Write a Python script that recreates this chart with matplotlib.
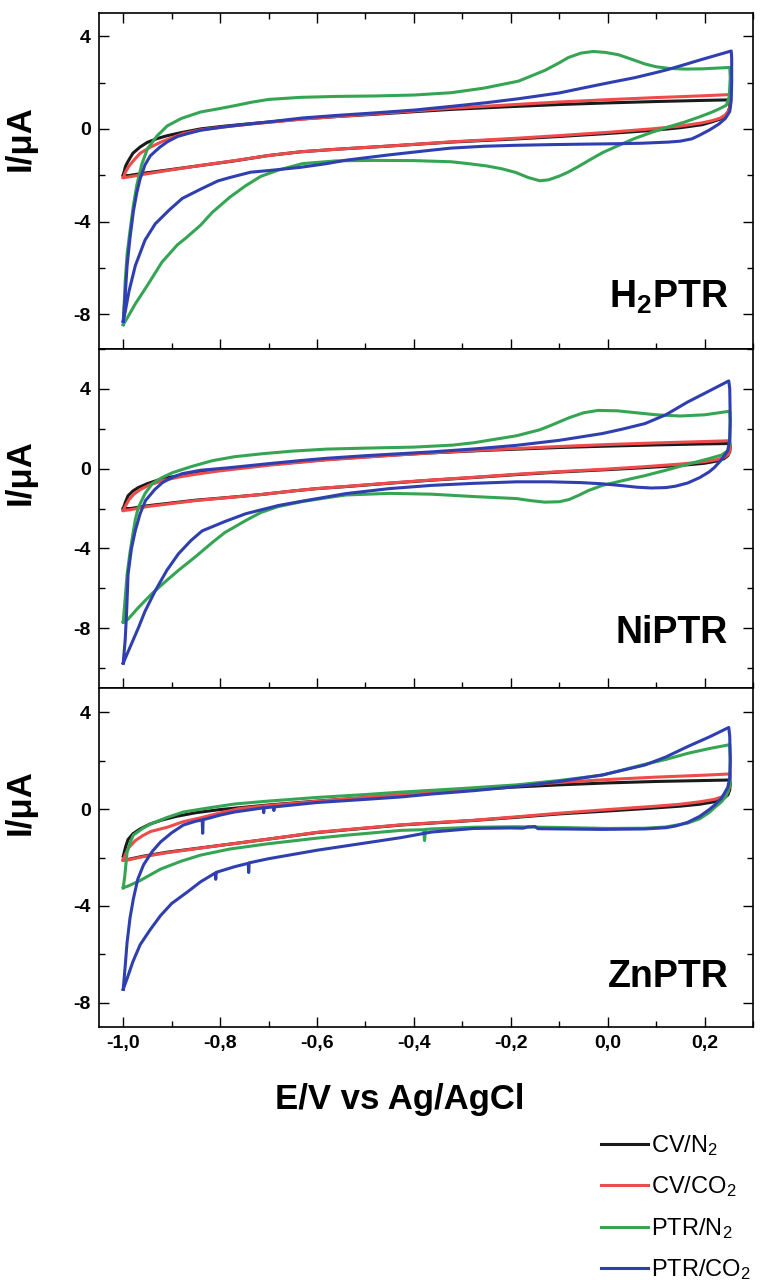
import matplotlib
matplotlib.use("Agg")
import matplotlib.pyplot as plt
from matplotlib.ticker import MultipleLocator, FuncFormatter
from matplotlib.lines import Line2D

plt.rcParams['font.family'] = ['Liberation Sans', 'DejaVu Sans']
plt.rcParams['font.weight'] = 'bold'
plt.rcParams['mathtext.fontset'] = 'custom'
plt.rcParams['mathtext.rm'] = 'Liberation Sans'
plt.rcParams['mathtext.bf'] = 'Liberation Sans:bold'
plt.rcParams['mathtext.it'] = 'Liberation Sans:italic'

# ---------------------------------------------------------------- labels
SERIES_LABELS = ["CV/N$_\\mathregular{2}$", "CV/CO$_\\mathregular{2}$",
                 "PTR/N$_\\mathregular{2}$", "PTR/CO$_\\mathregular{2}$"]
SERIES_COLORS = ["#1a1a1a", "#f04b4b", "#35a553", "#2f3fb0"]
PANEL_NAMES = ["H$_\\mathbf{2}$PTR", "NiPTR", "ZnPTR"]
X_LABEL = "E/V vs Ag/AgCl"
Y_LABEL = "I/\u03bcA"

# ---------------------------------------------------------------- data
# each loop: (E / V, I / uA), anodic sweep from -1.0 V then cathodic sweep back

# H2PTR
H2_CV_N2 = [
    (-1.000, -2.00), (-0.995, -1.60), (-0.990, -1.40), (-0.980, -1.05), (-0.965, -0.78),
    (-0.950, -0.58), (-0.930, -0.42), (-0.910, -0.30), (-0.880, -0.16), (-0.840, 0.00),
    (-0.790, 0.12), (-0.740, 0.22), (-0.680, 0.33), (-0.630, 0.43), (-0.560, 0.53),
    (-0.480, 0.63), (-0.400, 0.74), (-0.323, 0.84), (-0.200, 0.96), (-0.100, 1.05),
    (0.000, 1.12), (0.100, 1.18), (0.200, 1.23), (0.250, 1.25),
    (0.252, 1.20), (0.252, 0.95), (0.249, 0.75), (0.243, 0.58), (0.232, 0.42),
    (0.215, 0.30), (0.195, 0.18), (0.150, 0.05), (0.091, -0.07), (0.000, -0.20),
    (-0.100, -0.33), (-0.184, -0.43), (-0.323, -0.57), (-0.450, -0.74), (-0.560, -0.88),
    (-0.634, -0.99), (-0.700, -1.15), (-0.770, -1.38), (-0.840, -1.58), (-0.910, -1.78),
    (-0.960, -1.92), (-0.990, -2.02), (-1.000, -2.00)]

H2_CV_CO2 = [
    (-1.000, -2.10), (-0.995, -1.85), (-0.988, -1.60), (-0.978, -1.35), (-0.965, -1.05),
    (-0.944, -0.79), (-0.920, -0.55), (-0.895, -0.35), (-0.876, -0.20), (-0.840, -0.04),
    (-0.790, 0.09), (-0.740, 0.20), (-0.680, 0.32), (-0.630, 0.42), (-0.560, 0.53),
    (-0.480, 0.65), (-0.400, 0.77), (-0.323, 0.89), (-0.200, 1.04), (-0.100, 1.16),
    (0.000, 1.26), (0.100, 1.35), (0.200, 1.43), (0.252, 1.48),
    (0.253, 1.30), (0.253, 1.00), (0.250, 0.78), (0.243, 0.60), (0.232, 0.46),
    (0.215, 0.35), (0.195, 0.26), (0.150, 0.12), (0.091, 0.00), (0.000, -0.15),
    (-0.100, -0.29), (-0.184, -0.40), (-0.323, -0.56), (-0.450, -0.74), (-0.560, -0.88),
    (-0.634, -0.99), (-0.700, -1.15), (-0.770, -1.37), (-0.840, -1.58), (-0.910, -1.80),
    (-0.960, -1.97), (-0.990, -2.08), (-1.000, -2.10)]

H2_PTR_N2 = [
    (-1.000, -8.45), (-0.996, -6.60), (-0.992, -5.40), (-0.986, -4.40), (-0.979, -3.30),
    (-0.972, -2.43), (-0.962, -1.55), (-0.950, -0.86), (-0.930, -0.30), (-0.909, 0.13),
    (-0.880, 0.45), (-0.840, 0.73), (-0.800, 0.88), (-0.770, 1.00), (-0.735, 1.15),
    (-0.700, 1.27), (-0.634, 1.36), (-0.560, 1.40), (-0.480, 1.42), (-0.400, 1.46),
    (-0.323, 1.56), (-0.255, 1.76), (-0.184, 2.06), (-0.130, 2.52), (-0.100, 2.85),
    (-0.081, 3.08), (-0.055, 3.27), (-0.030, 3.34), (-0.005, 3.30), (0.022, 3.20),
    (0.050, 3.00), (0.077, 2.80), (0.100, 2.68), (0.126, 2.61), (0.160, 2.58),
    (0.195, 2.59), (0.252, 2.65),
    (0.253, 2.20), (0.251, 1.40), (0.245, 1.02), (0.230, 0.86), (0.215, 0.72),
    (0.190, 0.52), (0.160, 0.30), (0.125, 0.08), (0.091, -0.15), (0.055, -0.42),
    (0.022, -0.72), (-0.010, -1.02), (-0.033, -1.29), (-0.060, -1.62), (-0.081, -1.86),
    (-0.100, -2.04), (-0.122, -2.20), (-0.140, -2.24), (-0.164, -2.10), (-0.190, -1.88),
    (-0.219, -1.72), (-0.250, -1.60), (-0.288, -1.50), (-0.323, -1.42), (-0.400, -1.37),
    (-0.480, -1.36), (-0.560, -1.38), (-0.630, -1.50), (-0.680, -1.78), (-0.716, -2.05),
    (-0.747, -2.45), (-0.780, -2.95), (-0.816, -3.60), (-0.840, -4.15), (-0.870, -4.70),
    (-0.888, -5.00), (-0.920, -5.75), (-0.950, -6.75), (-0.975, -7.55), (-0.990, -8.10),
    (-1.000, -8.45)]

H2_PTR_CO2 = [
    (-1.000, -8.30), (-0.996, -7.20), (-0.992, -5.90), (-0.986, -4.70), (-0.979, -3.56),
    (-0.972, -2.75), (-0.965, -2.15), (-0.955, -1.55), (-0.944, -1.16), (-0.925, -0.80),
    (-0.909, -0.56), (-0.888, -0.33), (-0.868, -0.21), (-0.840, -0.06), (-0.800, 0.06),
    (-0.770, 0.14), (-0.700, 0.30), (-0.630, 0.47), (-0.560, 0.58), (-0.480, 0.69),
    (-0.400, 0.81), (-0.323, 0.97), (-0.250, 1.13), (-0.184, 1.30), (-0.100, 1.55),
    (-0.047, 1.78), (0.000, 1.98), (0.056, 2.21), (0.100, 2.43), (0.126, 2.57),
    (0.160, 2.78), (0.195, 3.00), (0.225, 3.18), (0.255, 3.36),
    (0.256, 3.05), (0.256, 2.00), (0.255, 1.20), (0.252, 0.75), (0.243, 0.45),
    (0.229, 0.20), (0.210, -0.05), (0.190, -0.27), (0.174, -0.43), (0.150, -0.53),
    (0.126, -0.57), (0.070, -0.62), (0.022, -0.64), (-0.050, -0.66), (-0.116, -0.68),
    (-0.190, -0.71), (-0.255, -0.75), (-0.323, -0.83), (-0.364, -0.92), (-0.450, -1.12),
    (-0.540, -1.35), (-0.580, -1.50), (-0.634, -1.66), (-0.700, -1.80), (-0.737, -1.87),
    (-0.780, -2.10), (-0.805, -2.25), (-0.840, -2.60), (-0.878, -3.00), (-0.905, -3.50),
    (-0.934, -4.10), (-0.955, -4.80), (-0.975, -5.90), (-0.988, -7.00), (-0.996, -7.90),
    (-1.000, -8.30)]

# NiPTR
NI_CV_N2 = [
    (-1.000, -2.00), (-0.995, -1.65), (-0.990, -1.36), (-0.980, -1.12), (-0.969, -0.95),
    (-0.950, -0.75), (-0.919, -0.50), (-0.885, -0.35), (-0.850, -0.22), (-0.800, -0.07),
    (-0.700, 0.20), (-0.580, 0.46), (-0.450, 0.67), (-0.364, 0.79), (-0.250, 0.92),
    (-0.100, 1.06), (0.000, 1.13), (0.100, 1.19), (0.200, 1.24), (0.252, 1.26),
    (0.253, 1.10), (0.252, 0.85), (0.248, 0.65), (0.240, 0.50), (0.225, 0.38),
    (0.200, 0.27), (0.150, 0.16), (0.077, 0.05), (0.000, -0.05), (-0.100, -0.17),
    (-0.188, -0.30), (-0.280, -0.45), (-0.364, -0.58), (-0.450, -0.73), (-0.540, -0.90),
    (-0.600, -1.00), (-0.650, -1.12), (-0.716, -1.30), (-0.800, -1.48), (-0.850, -1.58),
    (-0.900, -1.72), (-0.950, -1.86), (-0.985, -2.00), (-1.000, -2.00)]

NI_CV_CO2 = [
    (-1.000, -2.10), (-0.995, -1.85), (-0.988, -1.55), (-0.978, -1.28), (-0.965, -1.05),
    (-0.944, -0.80), (-0.915, -0.58), (-0.885, -0.42), (-0.850, -0.28), (-0.800, -0.11),
    (-0.700, 0.17), (-0.580, 0.44), (-0.450, 0.66), (-0.364, 0.79), (-0.250, 0.94),
    (-0.100, 1.11), (0.000, 1.21), (0.100, 1.29), (0.200, 1.36), (0.252, 1.40),
    (0.253, 1.20), (0.253, 0.95), (0.249, 0.72), (0.240, 0.56), (0.225, 0.45),
    (0.200, 0.35), (0.150, 0.23), (0.077, 0.10), (0.000, -0.02), (-0.100, -0.15),
    (-0.188, -0.28), (-0.280, -0.44), (-0.364, -0.57), (-0.450, -0.72), (-0.540, -0.89),
    (-0.600, -1.00), (-0.650, -1.12), (-0.716, -1.30), (-0.800, -1.49), (-0.850, -1.60),
    (-0.900, -1.75), (-0.950, -1.90), (-0.985, -2.06), (-1.000, -2.10)]

NI_PTR_N2 = [
    (-1.000, -7.70), (-0.996, -6.50), (-0.992, -5.30), (-0.986, -4.20), (-0.980, -3.27),
    (-0.975, -2.55), (-0.969, -1.96), (-0.955, -1.25), (-0.940, -0.75), (-0.920, -0.45),
    (-0.898, -0.20), (-0.860, 0.10), (-0.816, 0.40), (-0.770, 0.60), (-0.712, 0.75),
    (-0.650, 0.88), (-0.580, 0.98), (-0.500, 1.03), (-0.400, 1.08), (-0.320, 1.18),
    (-0.276, 1.30), (-0.188, 1.65), (-0.140, 1.95), (-0.117, 2.17), (-0.080, 2.55),
    (-0.050, 2.80), (-0.020, 2.92), (0.020, 2.90), (0.060, 2.80), (0.100, 2.70),
    (0.150, 2.64), (0.200, 2.70), (0.252, 2.88),
    (0.253, 2.30), (0.252, 1.30), (0.248, 0.90), (0.235, 0.68), (0.209, 0.50),
    (0.165, 0.22), (0.120, -0.08), (0.077, -0.35), (0.033, -0.59), (-0.011, -0.84),
    (-0.040, -1.10), (-0.060, -1.34), (-0.080, -1.55), (-0.100, -1.66), (-0.130, -1.68),
    (-0.160, -1.60), (-0.188, -1.50), (-0.276, -1.40), (-0.364, -1.28), (-0.450, -1.24),
    (-0.540, -1.32), (-0.580, -1.46), (-0.630, -1.65), (-0.680, -1.90), (-0.716, -2.20),
    (-0.747, -2.60), (-0.790, -3.20), (-0.816, -3.70), (-0.850, -4.40), (-0.886, -5.10),
    (-0.910, -5.60), (-0.940, -6.25), (-0.970, -7.00), (-0.990, -7.55), (-1.000, -7.70)]

NI_PTR_CO2 = [
    (-1.000, -9.75), (-0.996, -8.60), (-0.993, -7.20), (-0.990, -5.30), (-0.983, -4.00),
    (-0.975, -3.10), (-0.965, -2.25), (-0.954, -1.60), (-0.935, -1.05), (-0.919, -0.70),
    (-0.900, -0.45), (-0.878, -0.25), (-0.840, -0.08), (-0.780, 0.05), (-0.700, 0.25),
    (-0.628, 0.42), (-0.580, 0.52), (-0.500, 0.65), (-0.364, 0.84), (-0.270, 1.00),
    (-0.188, 1.17), (-0.100, 1.42), (-0.011, 1.76), (0.030, 1.98), (0.077, 2.26),
    (0.120, 2.70), (0.165, 3.34), (0.210, 3.90), (0.250, 4.40),
    (0.252, 4.00), (0.253, 2.50), (0.252, 1.50), (0.248, 0.90), (0.235, 0.45),
    (0.220, 0.05), (0.209, -0.17), (0.190, -0.45), (0.165, -0.72), (0.140, -0.88),
    (0.120, -0.95), (0.090, -0.97), (0.060, -0.93), (0.033, -0.86), (-0.011, -0.76),
    (-0.055, -0.70), (-0.120, -0.66), (-0.188, -0.66), (-0.280, -0.74), (-0.364, -0.84),
    (-0.450, -1.00), (-0.540, -1.25), (-0.580, -1.42), (-0.628, -1.62), (-0.680, -1.85),
    (-0.747, -2.26), (-0.790, -2.65), (-0.837, -3.12), (-0.860, -3.60), (-0.886, -4.27),
    (-0.910, -5.10), (-0.934, -6.13), (-0.955, -7.15), (-0.969, -8.00), (-0.985, -8.90),
    (-1.000, -9.75)]

# ZnPTR
ZN_CV_N2 = [
    (-1.000, -1.95), (-0.995, -1.55), (-0.990, -1.26), (-0.980, -1.02), (-0.965, -0.82),
    (-0.945, -0.62), (-0.920, -0.45), (-0.890, -0.30), (-0.850, -0.15), (-0.800, -0.02),
    (-0.700, 0.17), (-0.600, 0.33), (-0.500, 0.47), (-0.400, 0.62), (-0.300, 0.77),
    (-0.200, 0.90), (-0.100, 1.00), (0.000, 1.08), (0.100, 1.14), (0.200, 1.18),
    (0.252, 1.20),
    (0.253, 1.05), (0.252, 0.80), (0.248, 0.58), (0.238, 0.42), (0.220, 0.30),
    (0.190, 0.20), (0.150, 0.12), (0.100, 0.05), (0.000, -0.08), (-0.100, -0.20),
    (-0.188, -0.34), (-0.276, -0.47), (-0.364, -0.58), (-0.427, -0.66), (-0.540, -0.86),
    (-0.600, -0.97), (-0.700, -1.24), (-0.800, -1.50), (-0.909, -1.78), (-0.960, -1.95),
    (-0.990, -2.08), (-1.000, -2.10)]

ZN_CV_CO2 = [
    (-1.000, -2.10), (-0.995, -1.85), (-0.988, -1.58), (-0.975, -1.30), (-0.960, -1.10),
    (-0.944, -0.93), (-0.909, -0.75), (-0.876, -0.52), (-0.840, -0.36), (-0.800, -0.16),
    (-0.760, 0.02), (-0.700, 0.15), (-0.600, 0.32), (-0.500, 0.48), (-0.400, 0.63),
    (-0.300, 0.79), (-0.200, 0.95), (-0.100, 1.10), (0.000, 1.22), (0.100, 1.32),
    (0.200, 1.40), (0.252, 1.45),
    (0.253, 1.25), (0.252, 0.95), (0.248, 0.70), (0.238, 0.52), (0.220, 0.40),
    (0.190, 0.30), (0.150, 0.20), (0.100, 0.12), (0.000, -0.02), (-0.100, -0.17),
    (-0.188, -0.32), (-0.276, -0.46), (-0.364, -0.57), (-0.427, -0.65), (-0.540, -0.85),
    (-0.600, -0.96), (-0.700, -1.24), (-0.800, -1.50), (-0.909, -1.80), (-0.960, -1.97),
    (-0.990, -2.10), (-1.000, -2.12)]

ZN_PTR_N2 = [
    (-1.000, -3.25), (-0.997, -2.80), (-0.992, -1.78), (-0.985, -1.35), (-0.979, -1.07),
    (-0.960, -0.80), (-0.944, -0.62), (-0.910, -0.35), (-0.876, -0.12), (-0.820, 0.06),
    (-0.770, 0.21), (-0.700, 0.33), (-0.600, 0.48), (-0.500, 0.60), (-0.427, 0.70),
    (-0.300, 0.85), (-0.188, 1.00), (-0.100, 1.18), (-0.011, 1.40), (0.077, 1.85),
    (0.120, 2.05), (0.165, 2.30), (0.210, 2.50), (0.252, 2.66),
    (0.253, 2.20), (0.253, 1.40), (0.251, 0.90), (0.245, 0.55), (0.235, 0.30),
    (0.220, 0.05), (0.209, -0.15), (0.190, -0.40), (0.165, -0.58), (0.120, -0.74),
    (0.077, -0.79), (0.000, -0.80), (-0.100, -0.76), (-0.188, -0.73), (-0.276, -0.75),
    (-0.364, -0.82), (-0.376, -0.84), (-0.378, -1.30), (-0.380, -0.85), (-0.427, -0.88),
    (-0.540, -1.08), (-0.600, -1.20), (-0.700, -1.43), (-0.780, -1.65), (-0.840, -1.90),
    (-0.880, -2.15), (-0.923, -2.48), (-0.965, -2.95), (-0.990, -3.18), (-1.000, -3.25)]

ZN_PTR_CO2 = [
    (-1.000, -7.44), (-0.996, -6.50), (-0.992, -5.50), (-0.986, -4.50), (-0.979, -3.70),
    (-0.970, -2.90), (-0.958, -2.30), (-0.940, -1.75), (-0.923, -1.36), (-0.900, -0.98),
    (-0.876, -0.66), (-0.850, -0.50), (-0.837, -0.45), (-0.836, -1.00), (-0.835, -0.44),
    (-0.800, -0.25), (-0.770, -0.12), (-0.735, -0.02), (-0.711, 0.05), (-0.710, -0.15),
    (-0.709, 0.05), (-0.690, 0.09), (-0.689, -0.06), (-0.688, 0.09), (-0.600, 0.27),
    (-0.500, 0.40), (-0.427, 0.50), (-0.364, 0.62), (-0.276, 0.76), (-0.188, 0.93),
    (-0.100, 1.14), (-0.011, 1.41), (0.077, 1.82), (0.120, 2.15), (0.165, 2.58),
    (0.210, 2.98), (0.250, 3.37),
    (0.252, 3.00), (0.253, 2.00), (0.252, 1.30), (0.248, 0.90), (0.235, 0.45),
    (0.220, 0.15), (0.209, -0.03), (0.190, -0.30), (0.165, -0.55), (0.140, -0.70),
    (0.120, -0.77), (0.077, -0.82), (-0.011, -0.84), (-0.100, -0.82), (-0.144, -0.81),
    (-0.150, -0.72), (-0.165, -0.74), (-0.175, -0.79), (-0.200, -0.78), (-0.276, -0.80),
    (-0.364, -0.95), (-0.427, -1.18), (-0.500, -1.40), (-0.600, -1.70), (-0.700, -2.05),
    (-0.740, -2.22), (-0.741, -2.62), (-0.742, -2.24), (-0.770, -2.38), (-0.806, -2.60),
    (-0.808, -2.62), (-0.809, -2.90), (-0.810, -2.64), (-0.840, -3.00), (-0.868, -3.43),
    (-0.900, -3.90), (-0.923, -4.40), (-0.945, -5.00), (-0.965, -5.60), (-0.980, -6.30),
    (-0.992, -7.00), (-1.000, -7.44)]

PANEL_SERIES = [
    [H2_CV_N2, H2_CV_CO2, H2_PTR_N2, H2_PTR_CO2],
    [NI_CV_N2, NI_CV_CO2, NI_PTR_N2, NI_PTR_CO2],
    [ZN_CV_N2, ZN_CV_CO2, ZN_PTR_N2, ZN_PTR_CO2],
]
PANEL_YLIMS = [(-9.5, 5.0), (-11.0, 6.0), (-9.0, 5.0)]

# ---------------------------------------------------------------- figure
fig = plt.figure(figsize=(7.67, 12.8), dpi=100)

W, H = 767.0, 1280.0
left_px, right_px = 99, 753
panel_px = [(13, 349), (349, 688), (688, 1027)]
ylabel_y = [0.628, 0.637, 0.664]
name_y = [0.122, 0.133, 0.118]


def fmt_x(v, pos):
    s = f"{v:.1f}"
    if s == "-0.0":
        s = "0.0"
    return s.replace(".", ",")


def fmt_y(v, pos):
    return f"{int(round(v))}"


axes = []
for i, (top, bot) in enumerate(panel_px):
    ax = fig.add_axes([left_px / W, 1 - bot / H, (right_px - left_px) / W, (bot - top) / H])
    axes.append(ax)
    for series, color in zip(PANEL_SERIES[i], SERIES_COLORS):
        e = [p[0] for p in series]
        cur = [p[1] for p in series]
        ax.plot(e, cur, color=color, lw=2.2, solid_joinstyle='round')

    ax.set_xlim(-1.05, 0.30)
    ax.set_ylim(*PANEL_YLIMS[i])
    ax.xaxis.set_major_locator(MultipleLocator(0.2))
    ax.xaxis.set_minor_locator(MultipleLocator(0.1))
    ax.yaxis.set_major_locator(MultipleLocator(4))
    ax.yaxis.set_minor_locator(MultipleLocator(2))
    ax.xaxis.set_major_formatter(FuncFormatter(fmt_x))
    ax.yaxis.set_major_formatter(FuncFormatter(fmt_y))
    ax.tick_params(axis='both', which='both', direction='in', right=True,
                   top=(i == 0), width=1.0, labelsize=14)
    ax.tick_params(which='major', length=7, pad=6)
    ax.tick_params(which='minor', length=4)
    if i < 2:
        ax.tick_params(axis='x', labelbottom=False)
    for sp in ax.spines.values():
        sp.set_linewidth(1.2)

    ax.set_ylabel(Y_LABEL, fontsize=25, fontweight='bold')
    ax.yaxis.set_label_coords(-0.096, ylabel_y[i])
    ax.text(0.962, name_y[i], PANEL_NAMES[i], transform=ax.transAxes,
            ha='right', va='baseline', fontsize=27, fontweight='bold')

fig.text(400 / W, 1 - 1100 / H, X_LABEL, ha='center', va='center',
         fontsize=25, fontweight='bold')

handles = [Line2D([], [], color=c, lw=2.2) for c in SERIES_COLORS]
fig.legend(handles, SERIES_LABELS, loc='upper left',
           bbox_to_anchor=(601 / W, 1 - 1133 / H), frameon=False,
           prop={'size': 17, 'weight': 'normal'}, handlelength=2.0,
           handletextpad=0.1, labelspacing=0.7, borderpad=0, borderaxespad=0)

fig.savefig("out.png", dpi=100)
